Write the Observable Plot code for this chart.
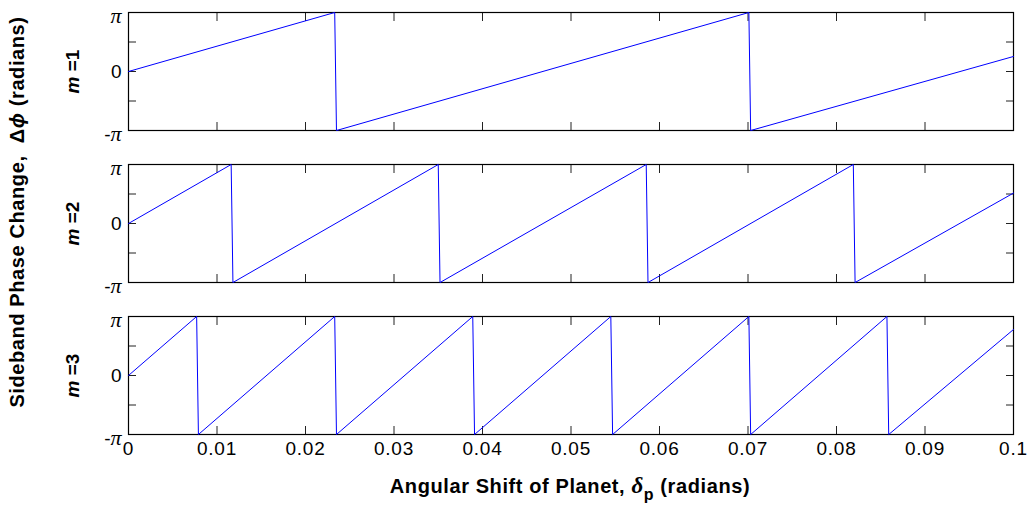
<!DOCTYPE html>
<html><head><meta charset="utf-8">
<script src="https://cdn.jsdelivr.net/npm/d3@7"></script>
<script src="https://cdn.jsdelivr.net/npm/@observablehq/plot@0.6"></script>
<style>
body{margin:0;background:#fff;}
#chart{width:1032px;height:510px;}
</style></head><body><div id="chart"></div>
<script>
const PI = Math.PI;
const panels = [1, 2, 3];
const panelLabels = ["=1", "=2", "=3"];

// sawtooth vertices (x in radians, phase in radians)
const m1X = [0, 0.0233, 0.0235, 0.0701, 0.0703, 0.1];
const m1Y = [0, PI, -PI, PI, -PI, 0.80];
const m2X = [0, 0.0116, 0.0118, 0.0350, 0.0352, 0.0585, 0.0587, 0.0819, 0.0821, 0.1];
const m2Y = [0, PI, -PI, PI, -PI, PI, -PI, PI, -PI, 1.62];
const m3X = [0, 0.0077, 0.0079, 0.0233, 0.0235, 0.0389, 0.0391, 0.0545, 0.0547, 0.0701, 0.0703, 0.0857, 0.0859, 0.1];
const m3Y = [0, PI, -PI, PI, -PI, PI, -PI, PI, -PI, PI, -PI, PI, -PI, 2.45];

const xTicks = [0, 0.01, 0.02, 0.03, 0.04, 0.05, 0.06, 0.07, 0.08, 0.09, 0.1];
const xTickLabels = ["0", "0.01", "0.02", "0.03", "0.04", "0.05", "0.06", "0.07", "0.08", "0.09", "0.1"];
const yTicks = [-PI, -PI / 2, 0, PI / 2, PI];
const yLabelTicks = [-PI, 0, PI];
const yTickLabels = ["-π", "0", "π"];

const rows = [];
[[1, m1X, m1Y], [2, m2X, m2Y], [3, m3X, m3Y]].forEach(([m, xs, ys]) =>
  xs.forEach((x, i) => rows.push({m, x, y: ys[i]})));

const sans = "Arial, 'Liberation Sans', Helvetica, sans-serif";
const serif = "'Times New Roman', 'Liberation Serif', 'DejaVu Serif', serif";

const plot = Plot.plot({
  width: 1032, height: 510,
  marginLeft: 128, marginRight: 19, marginTop: 11, marginBottom: 76,
  style: {fontFamily: sans, fontSize: "18px", color: "#000", background: "#fff", overflow: "visible"},
  x: {domain: [0, 0.1]},
  y: {domain: [-PI, PI]},
  fy: {domain: panels, paddingInner: 0.226, paddingOuter: 0},
  marks: [
    Plot.axisX(xTicks, {anchor: "bottom", tickSize: -8, fill: "none", facetAnchor: null, stroke: "#222"}),
    Plot.axisX(xTicks, {anchor: "top", tickSize: -8, fill: "none", facetAnchor: null, stroke: "#222"}),
    Plot.axisX(xTicks, {anchor: "bottom", tickSize: 0, tickPadding: 7, fontSize: 19, tickFormat: (d, i) => xTickLabels[i], label: null}),
    Plot.axisY(yTicks, {anchor: "left", tickSize: -8, fill: "none", facetAnchor: null, stroke: "#222"}),
    Plot.axisY(yTicks, {anchor: "right", tickSize: -8, fill: "none", facetAnchor: null, stroke: "#222"}),
    Plot.axisY(yLabelTicks, {anchor: "left", tickSize: 0, tickPadding: 7, fontSize: 19, tickFormat: (d, i) => yTickLabels[i], label: null}),
    Plot.axisFy({anchor: "left", tickSize: 0, tickRotate: -90, dx: -41, fontSize: 19, tickFormat: m => panelLabels[m - 1], label: null, fontWeight: "bold"}),
    Plot.frame({stroke: "#000", strokeWidth: 1.2}),
    Plot.lineY(rows, {x: "x", y: "y", z: "m", fy: "m", stroke: "#0000ff", strokeWidth: 1})
  ]
});

const svg = d3.select(plot);

// enforce label font sizes
svg.selectAll('g[aria-label="x-axis tick label"] text').style("font-size", "19px").style("letter-spacing", "0.8px");
svg.selectAll('g[aria-label="y-axis tick label"] text').style("font-size", "19px");
svg.selectAll('g[aria-label="fy-axis tick label"] text').style("font-size", "19px").style("font-weight", "bold");

// y tick labels: π in italic serif, sitting slightly below the tick as in the original
svg.selectAll('g[aria-label="y-axis tick label"] text').each(function () {
  const t = d3.select(this);
  const s = t.text();
  if (s.includes("π")) {
    t.text(null);
    const tr = t.attr("transform") || "";
    t.attr("transform", tr + " translate(0,4)");
    if (s.startsWith("-")) t.append("tspan").text("-");
    t.append("tspan").attr("font-family", serif).attr("font-style", "italic").style("font-size", "22px").text("π");
  }
});

// fy labels: italic m
svg.selectAll('g[aria-label="fy-axis tick label"] text').each(function () {
  const t = d3.select(this);
  const s = t.text();
  t.text(null);
  t.append("tspan").attr("font-style", "italic").text("m");
  t.append("tspan").text(" " + s);
});

// axis titles
const xt = svg.append("text")
  .attr("x", 570).attr("y", 493)
  .attr("text-anchor", "middle")
  .attr("font-weight", "bold").style("font-size", "20px")
  .style("letter-spacing", "0.6px");
xt.append("tspan").text("Angular Shift of Planet, ");
xt.append("tspan").attr("font-style", "italic").attr("font-family", serif).style("font-size", "23px").text("δ");
xt.append("tspan").attr("dy", 7).style("font-size", "16px").text("p");
xt.append("tspan").attr("dy", -7).text(" (radians)");

const yt = svg.append("text")
  .attr("transform", "translate(24,212) rotate(-90)")
  .attr("text-anchor", "middle")
  .attr("font-weight", "bold").style("font-size", "20px")
  .style("letter-spacing", "0.6px");
yt.append("tspan").text("Sideband Phase Change,  Δ");
yt.append("tspan").attr("font-style", "italic").text("ϕ");
yt.append("tspan").text(" (radians)");

document.getElementById("chart").appendChild(plot);
</script>
</body></html>
